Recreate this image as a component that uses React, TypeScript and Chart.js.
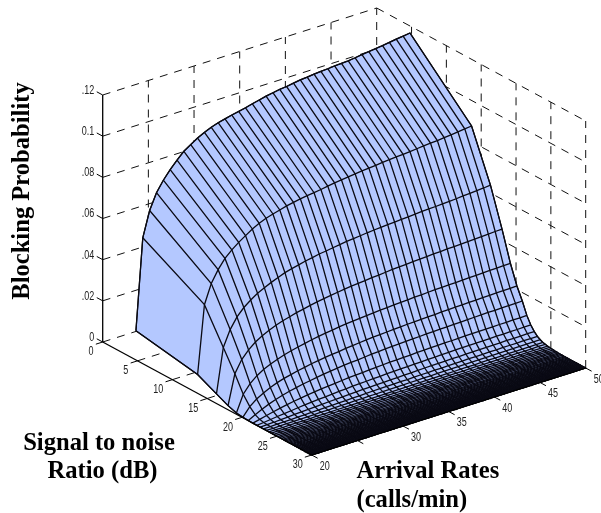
import React, { useEffect, useRef } from "react";
import { Chart, registerables } from "chart.js";

Chart.register(...registerables);

const zTicks = [0, 0.02, 0.04, 0.06, 0.08, 0.1, 0.12];
const zTickLabels = ["0", "0.02", "0.04", "0.06", "0.08", "0.1", "0.12"];
const snrTicks = [0, 5, 10, 15, 20, 25, 30];
const rateTicks = [20, 25, 30, 35, 40, 45, 50];
const rateTickLabels = ["20", "", "30", "35", "40", "45", "50"];

const rates = [
  20, 20.75, 21.5, 22.25, 23, 23.75, 24.5, 25.25, 26, 26.75, 27.5, 28.25, 29, 29.75, 30.5, 31.25, 32, 32.75, 33.5, 34.25,
  35, 35.75, 36.5, 37.25, 38, 38.75, 39.5, 40.25, 41, 41.75, 42.5, 43.25, 44, 44.75, 45.5, 46.25, 47, 47.75, 48.5, 49.25, 50,
];

const snrDb = [
  4.77, 13.62, 16.33, 17.99, 19.19, 20.13, 20.9, 21.55, 22.12, 22.62, 23.07, 23.48, 23.86, 24.2, 24.52, 24.82, 25.09, 25.35,
  25.6, 25.83, 26.05, 26.26, 26.46, 26.66, 26.84, 27.02, 27.19, 27.35, 27.51, 27.66, 27.8, 27.94, 28.08, 28.22, 28.34, 28.47,
  28.59, 28.71, 28.83, 28.94, 29.05, 29.15, 29.26, 29.36, 29.46, 29.56, 29.65, 29.75, 29.84, 29.93, 30,
];

const floorRow = [
  0, 0, 0, 0, 0, 0, 0, 0, 0, 0, 0, 0, 0, 0, 0, 0, 0, 0, 0, 0, 0, 0, 0, 0, 0, 0, 0, 0, 0, 0, 0, 0, 0, 0, 0, 0, 0, 0, 0, 0, 0,
];

// Blocking probability x 10000, one row per SNR value, one column per arrival rate.
const blockingE4 = [
  [142, 583, 705, 781, 831, 872, 907, 940, 962, 983, 1000, 1014, 1026, 1034, 1042, 1049, 1056, 1065, 1073, 1081, 1087, 1093, 1096, 1102, 1107, 1110, 1114, 1117, 1119, 1122, 1124, 1126, 1130, 1135, 1139, 1143, 1147, 1152, 1157, 1161, 1166],
  [91, 420, 512, 569, 613, 644, 670, 692, 714, 731, 745, 755, 764, 773, 780, 786, 791, 795, 800, 806, 811, 815, 819, 823, 827, 830, 833, 837, 839, 842, 844, 847, 850, 853, 856, 858, 862, 865, 869, 873, 876],
  [47, 262, 338, 389, 424, 450, 472, 488, 504, 517, 530, 539, 547, 555, 561, 568, 572, 577, 582, 587, 590, 593, 597, 600, 602, 605, 607, 609, 611, 614, 616, 618, 619, 621, 623, 625, 628, 630, 633, 635, 638],
  [20, 164, 223, 259, 287, 307, 323, 337, 348, 357, 366, 373, 380, 387, 392, 397, 402, 406, 410, 413, 416, 420, 422, 425, 428, 430, 432, 434, 436, 438, 440, 441, 443, 444, 445, 447, 449, 450, 452, 454, 455],
  [6, 87, 128, 156, 176, 191, 204, 215, 224, 232, 239, 246, 252, 257, 261, 266, 270, 273, 276, 279, 281, 284, 286, 288, 290, 292, 294, 295, 297, 299, 300, 301, 302, 303, 305, 305, 307, 308, 309, 310, 311],
  [3, 44, 70, 89, 105, 118, 128, 136, 144, 150, 157, 162, 167, 171, 174, 179, 182, 185, 188, 191, 193, 195, 197, 199, 201, 202, 204, 205, 206, 208, 209, 210, 211, 212, 213, 214, 215, 216, 216, 217, 218],
  [1, 19, 35, 49, 61, 71, 80, 87, 94, 99, 105, 110, 114, 118, 122, 125, 127, 130, 133, 135, 138, 139, 141, 142, 144, 145, 147, 148, 149, 150, 151, 152, 153, 154, 155, 156, 156, 157, 158, 158, 159],
  [0, 8, 16, 24, 31, 37, 43, 48, 53, 57, 61, 64, 67, 70, 73, 75, 77, 79, 81, 83, 85, 86, 87, 88, 90, 91, 92, 93, 94, 94, 95, 96, 97, 97, 98, 98, 99, 99, 100, 100, 101],
  [0, 3, 7, 11, 15, 18, 22, 25, 28, 31, 33, 35, 38, 40, 42, 44, 45, 47, 48, 50, 51, 52, 53, 54, 55, 56, 57, 58, 59, 60, 60, 61, 61, 62, 62, 63, 63, 64, 64, 65, 65],
  [0, 2, 3, 5, 7, 9, 11, 13, 14, 16, 18, 19, 21, 22, 24, 25, 26, 27, 28, 29, 30, 31, 32, 33, 34, 35, 35, 36, 37, 37, 38, 38, 39, 39, 40, 40, 41, 41, 41, 42, 42],
  [0, 1, 2, 2, 3, 4, 5, 6, 7, 8, 9, 10, 11, 12, 13, 14, 15, 16, 16, 17, 18, 18, 19, 20, 20, 21, 21, 22, 23, 23, 24, 24, 24, 25, 25, 26, 26, 26, 27, 27, 27],
  [0, 0, 1, 1, 2, 2, 3, 3, 4, 4, 5, 5, 6, 7, 7, 8, 8, 9, 9, 10, 10, 11, 11, 12, 12, 13, 13, 14, 14, 15, 15, 15, 16, 16, 16, 17, 17, 17, 18, 18, 18],
  [0, 0, 0, 1, 1, 1, 1, 2, 2, 2, 3, 3, 3, 4, 4, 4, 5, 5, 5, 6, 6, 6, 7, 7, 7, 8, 8, 8, 9, 9, 9, 10, 10, 10, 10, 11, 11, 11, 11, 12, 12],
  [0, 0, 0, 0, 1, 1, 1, 1, 1, 2, 2, 2, 2, 3, 3, 3, 3, 4, 4, 4, 4, 5, 5, 5, 5, 6, 6, 6, 6, 7, 7, 7, 7, 7, 8, 8, 8, 8, 8, 9, 9],
  [0, 0, 0, 0, 0, 1, 1, 1, 1, 1, 1, 2, 2, 2, 2, 2, 2, 3, 3, 3, 3, 3, 3, 4, 4, 4, 4, 4, 4, 5, 5, 5, 5, 5, 5, 5, 6, 6, 6, 6, 6],
  [0, 0, 0, 0, 0, 0, 1, 1, 1, 1, 1, 1, 1, 2, 2, 2, 2, 2, 2, 2, 3, 3, 3, 3, 3, 3, 3, 3, 4, 4, 4, 4, 4, 4, 4, 4, 5, 5, 5, 5, 5],
  [0, 0, 0, 0, 0, 0, 0, 0, 1, 1, 1, 1, 1, 1, 1, 1, 1, 2, 2, 2, 2, 2, 2, 2, 2, 2, 3, 3, 3, 3, 3, 3, 3, 3, 3, 3, 4, 4, 4, 4, 4],
  [0, 0, 0, 0, 0, 0, 0, 0, 0, 0, 1, 1, 1, 1, 1, 1, 1, 1, 1, 1, 1, 1, 2, 2, 2, 2, 2, 2, 2, 2, 2, 2, 2, 2, 3, 3, 3, 3, 3, 3, 3],
  [0, 0, 0, 0, 0, 0, 0, 0, 0, 0, 0, 0, 1, 1, 1, 1, 1, 1, 1, 1, 1, 1, 1, 1, 1, 1, 1, 2, 2, 2, 2, 2, 2, 2, 2, 2, 2, 2, 2, 2, 2],
  [0, 0, 0, 0, 0, 0, 0, 0, 0, 0, 0, 0, 0, 0, 1, 1, 1, 1, 1, 1, 1, 1, 1, 1, 1, 1, 1, 1, 1, 2, 2, 2, 2, 2, 2, 2, 2, 2, 2, 2, 2],
  [0, 0, 0, 0, 0, 0, 0, 0, 0, 0, 0, 0, 0, 0, 0, 0, 1, 1, 1, 1, 1, 1, 1, 1, 1, 1, 1, 1, 1, 1, 1, 1, 1, 1, 1, 1, 1, 1, 1, 1, 1],
  [0, 0, 0, 0, 0, 0, 0, 0, 0, 0, 0, 0, 0, 0, 0, 0, 0, 0, 0, 0, 1, 1, 1, 1, 1, 1, 1, 1, 1, 1, 1, 1, 1, 1, 1, 1, 1, 1, 1, 1, 1],
  [0, 0, 0, 0, 0, 0, 0, 0, 0, 0, 0, 0, 0, 0, 0, 0, 0, 0, 0, 0, 0, 0, 0, 0, 1, 1, 1, 1, 1, 1, 1, 1, 1, 1, 1, 1, 1, 1, 1, 1, 1],
  [0, 0, 0, 0, 0, 0, 0, 0, 0, 0, 0, 0, 0, 0, 0, 0, 0, 0, 0, 0, 0, 0, 0, 0, 0, 0, 0, 0, 0, 0, 1, 1, 1, 1, 1, 1, 1, 1, 1, 1, 1],
  floorRow, floorRow, floorRow, floorRow, floorRow, floorRow, floorRow, floorRow, floorRow,
  floorRow, floorRow, floorRow, floorRow, floorRow, floorRow, floorRow, floorRow, floorRow,
  floorRow, floorRow, floorRow, floorRow, floorRow, floorRow, floorRow, floorRow, floorRow,
];

const SNR_MAX = 30;
const RATE_MIN = 20;
const RATE_MAX = 50;
const Z_MAX = 0.12;

// Oblique view of the 3-D box, expressed in the hidden linear scales' units.
const project = (snr: number, rate: number, z: number) => ({
  x: 102.7 + (snr / SNR_MAX) * 209 + ((rate - RATE_MIN) / (RATE_MAX - RATE_MIN)) * 274,
  y: 342 + (snr / SNR_MAX) * 113 - ((rate - RATE_MIN) / (RATE_MAX - RATE_MIN)) * 87 - (z / Z_MAX) * 247,
});

const zAt = (k: number, i: number) => blockingE4[k][i] / 10000;

const line = (data: { x: number; y: number }[], extra: any = {}) => ({
  data,
  showLine: true,
  pointRadius: 0,
  borderColor: "#000000",
  borderWidth: 1,
  tension: 0,
  fill: false,
  order: 0,
  clip: false,
  ...extra,
});

const dashed = { borderDash: [8, 7], order: 3, borderColor: "#111111" };
const mesh = { order: 1, borderWidth: 1.3, borderColor: "#0a0a14" };

const buildDatasets = () => {
  const sets: any[] = [];
  // Dashed back walls and floor
  for (const z of zTicks) {
    sets.push(line([project(0, RATE_MIN, z), project(0, RATE_MAX, z)], dashed));
    sets.push(line([project(0, RATE_MAX, z), project(SNR_MAX, RATE_MAX, z)], dashed));
  }
  for (const r of rateTicks.slice(1)) {
    sets.push(line([project(0, r, 0), project(0, r, Z_MAX)], dashed));
    sets.push(line([project(0, r, 0), project(SNR_MAX, r, 0)], dashed));
  }
  for (const s of snrTicks.slice(1)) {
    sets.push(line([project(s, RATE_MAX, 0), project(s, RATE_MAX, Z_MAX)], dashed));
    sets.push(line([project(s, RATE_MIN, 0), project(s, RATE_MAX, 0)], dashed));
  }

  // Surface outline, filled by the plugin below
  const lastK = snrDb.length - 1;
  const lastI = rates.length - 1;
  const outline: { x: number; y: number }[] = [];
  rates.forEach((r, i) => outline.push(project(snrDb[0], r, zAt(0, i))));
  snrDb.forEach((s, k) => outline.push(project(s, rates[lastI], zAt(k, lastI))));
  for (let i = lastI; i >= 0; i--) outline.push(project(snrDb[lastK], rates[i], zAt(lastK, i)));
  for (let k = lastK; k >= 0; k--) outline.push(project(snrDb[k], rates[0], zAt(k, 0)));
  sets.push(line(outline, { surfaceFill: "#b4c8ff", borderWidth: 1.2, order: 2 }));

  // Mesh
  snrDb.forEach((s, k) => sets.push(line(rates.map((r, i) => project(s, r, zAt(k, i))), mesh)));
  rates.forEach((r, i) => sets.push(line(snrDb.map((s, k) => project(s, r, zAt(k, i))), mesh)));

  // Solid axes and tick marks
  const axis = { borderWidth: 1.3 };
  sets.push(line([project(0, RATE_MIN, 0), project(0, RATE_MIN, Z_MAX)], axis));
  sets.push(line([project(0, RATE_MIN, 0), project(SNR_MAX, RATE_MIN, 0)], axis));
  sets.push(line([project(SNR_MAX, RATE_MIN, 0), project(SNR_MAX, RATE_MAX, 0)], axis));
  for (const z of zTicks) sets.push(line([project(0, RATE_MIN, z), project(-0.85, RATE_MIN, z)]));
  for (const s of snrTicks) sets.push(line([project(s, RATE_MIN, 0), project(s, RATE_MIN - 0.75, 0)]));
  for (const r of rateTicks) sets.push(line([project(SNR_MAX, r, 0), project(SNR_MAX + 0.85, r, 0)]));
  return sets;
};

const surfacePlugin = {
  id: "surfaceFill",
  beforeDatasetDraw(chart: any, args: any) {
    const color = chart.data.datasets[args.index].surfaceFill;
    if (!color) return;
    const pts = args.meta.data;
    const ctx = chart.ctx;
    ctx.save();
    ctx.beginPath();
    pts.forEach((p: any, i: number) => (i ? ctx.lineTo(p.x, p.y) : ctx.moveTo(p.x, p.y)));
    ctx.closePath();
    ctx.fillStyle = color;
    ctx.fill();
    ctx.restore();
  },
};

const textPlugin = {
  id: "axisText",
  afterDraw(chart: any) {
    const { ctx, scales } = chart;
    const px = (p: { x: number; y: number }) => ({ x: scales.x.getPixelForValue(p.x), y: scales.y.getPixelForValue(p.y) });
    const tick = (text: string, x: number, y: number, align: "center" | "right") => {
      ctx.save();
      ctx.translate(x, y);
      ctx.scale(0.72, 1);
      ctx.font = '12.5px "Liberation Sans"';
      ctx.fillStyle = "#222222";
      ctx.textAlign = align;
      ctx.textBaseline = "middle";
      ctx.fillText(text, 0, 0);
      ctx.restore();
    };
    ctx.save();
    ctx.beginPath();
    ctx.rect(82, 0, 40, 513);
    ctx.clip();
    zTicks.forEach((z, i) => {
      const p = px(project(0, RATE_MIN, z));
      tick(zTickLabels[i], p.x - 8.5, p.y - 4.5, "right");
    });
    ctx.restore();
    snrTicks.forEach((s) => {
      const p = px(project(s, RATE_MIN, 0));
      tick(String(s), p.x - (s < 10 ? 11.8 : 14), p.y + 10, "center");
    });
    rateTicks.forEach((r, i) => {
      const p = px(project(SNR_MAX, r, 0));
      if (rateTickLabels[i]) tick(rateTickLabels[i], p.x + 13, p.y + 11.2, "center");
    });

    ctx.save();
    ctx.fillStyle = "#000000";
    ctx.font = 'bold 24.6px "Liberation Serif"';
    ctx.textBaseline = "alphabetic";
    ctx.textAlign = "center";
    ctx.fillText("Signal to noise", 99, 450);
    ctx.fillText("Ratio (dB)", 102.5, 478);
    ctx.textAlign = "left";
    ctx.fillText("Arrival Rates", 356.5, 478);
    ctx.fillText("(calls/min)", 356.5, 506.5);
    ctx.translate(28.5, 191);
    ctx.rotate(-Math.PI / 2);
    ctx.textAlign = "center";
    ctx.fillText("Blocking Probability", 0, 0);
    ctx.restore();
  },
};

export default function App() {
  const ref = useRef<HTMLCanvasElement>(null);
  useEffect(() => {
    document.body.style.margin = "0";
    const chart = new Chart(ref.current as HTMLCanvasElement, {
      type: "scatter",
      data: { datasets: buildDatasets() },
      options: {
        animation: false,
        responsive: false,
        layout: { padding: 0 },
        plugins: { legend: { display: false }, tooltip: { enabled: false } },
        scales: {
          x: { type: "linear", min: 0, max: 601, display: false },
          y: { type: "linear", min: 0, max: 513, reverse: true, display: false },
        },
      },
      plugins: [surfacePlugin, textPlugin],
    } as any);
    return () => chart.destroy();
  }, []);
  return (
    <div style={{ width: 601, height: 513, overflow: "hidden" }}>
      <canvas ref={ref} width={601} height={513} style={{ display: "block" }} />
    </div>
  );
}
